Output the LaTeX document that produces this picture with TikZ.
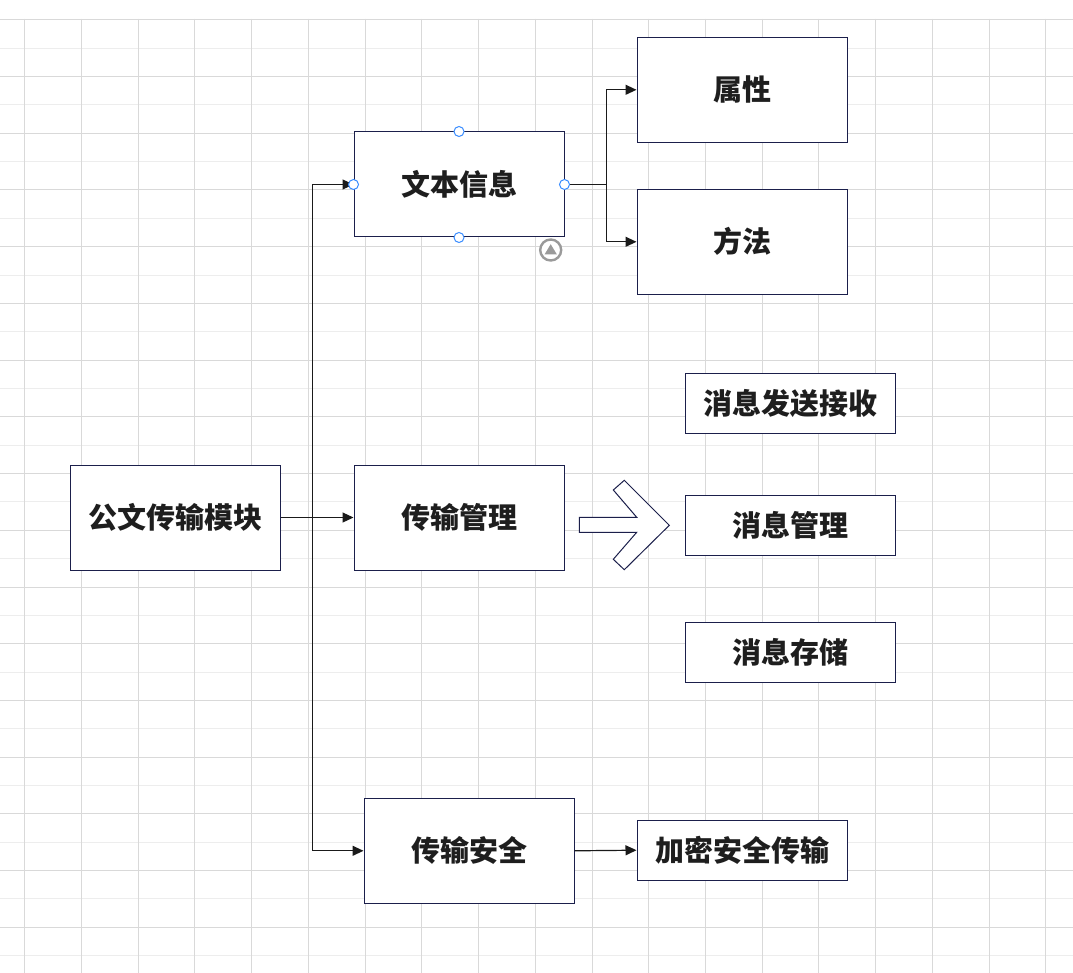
\documentclass[tikz,border=0pt]{standalone}
\usepackage{fontspec}
\newfontfamily\cjk{Noto Sans CJK SC}
\usetikzlibrary{arrows.meta}
\definecolor{boxc}{HTML}{1B1F4B}
\definecolor{txtc}{HTML}{1E1E1E}
\definecolor{linec}{HTML}{1A1A1A}
\definecolor{gmin}{HTML}{EDEDED}
\definecolor{gmaj}{HTML}{D9D9D9}
\definecolor{handle}{HTML}{3A8DFF}
\definecolor{icon}{HTML}{9A9A9A}
\begin{document}
\begin{tikzpicture}[x=1pt,y=-1pt,
  box/.style={draw=boxc,line width=1pt,fill=white,minimum width=210pt,minimum height=105pt,inner sep=0pt,text=txtc,font=\cjk\bfseries\fontsize{29}{32}\selectfont},
  sbox/.style={box,minimum height=60pt},
  arr/.style={draw=linec,line width=1.2pt,-{Triangle[length=11pt,width=10pt]}},
  gridminor/.style={draw=gmin,line width=1pt},
  gridmajor/.style={draw=gmaj,line width=1pt},
  hdl/.style={circle,draw=handle,fill=white,line width=1pt,minimum size=10pt,inner sep=0pt}]
\useasboundingbox (0,0) rectangle (1073,973);
\fill[white] (0,0) rectangle (1073,973);
% grid
\foreach \i in {1,3,...,37} \draw[gridminor] ({round(-4.06+28.36*\i)+0.5},19) -- ({round(-4.06+28.36*\i)+0.5},973);
\foreach \i in {1,3,...,33} \draw[gridminor] (0,{round(19.3+28.36*\i)+0.5}) -- (1073,{round(19.3+28.36*\i)+0.5});
\foreach \i in {0,...,18} \draw[gridmajor] ({round(24.3+56.72*\i)+0.5},19) -- ({round(24.3+56.72*\i)+0.5},973);
\foreach \i in {0,...,16} \draw[gridmajor] (0,{round(19.3+56.72*\i)+0.5}) -- (1073,{round(19.3+56.72*\i)+0.5});
% nodes
\node[box] (gw) at (175,517.5) {公文传输模块};
\node[box] (wb) at (459,184.5) {文本信息};
\node[box] (tm) at (459,517.5) {传输管理};
\node[box] (ta) at (469,850.8) {传输安全};
\node[box] (sx) at (742,89.8) {属性};
\node[box] (ff) at (742,241.8) {方法};
\node[sbox] (m1) at (790,403) {消息发送接收};
\node[sbox] (m2) at (790,525) {消息管理};
\node[sbox] (m3) at (790,652) {消息存储};
\node[sbox] (jm) at (742,850.2) {加密安全传输};
% connectors
\coordinate (j) at (312.3,517.5);
\coordinate (k) at (606.3,184.5);
\draw[arr] (gw.east) -- (tm.west);
\draw[arr] (j) |- (wb.west);
\draw[arr] (j) |- (ta.west);
\draw[draw=linec,line width=1.2pt] (wb.east) -- (k);
\draw[arr] (k) |- (sx.west);
\draw[arr] (k) |- (ff.west);
\draw[arr] (ta.east) -- (jm.west);
% block arrow
\draw[draw=boxc,line width=1pt,fill=white,line join=miter]
  (579.3,517.3) -- (636.7,517.3) -- (613.3,490) -- (624.3,480.3) -- (669.3,525.3)
  -- (624.3,569.7) -- (613.3,559.3) -- (636.7,532.3) -- (579.3,532.3) -- cycle;
% selection handles
\node[hdl] (h1) at (wb.west) {};
\node[hdl] (h2) at (wb.east) {};
\node[hdl] (h3) at (wb.north) {};
\node[hdl] (h4) at (wb.south) {};
% icon
\draw[draw=icon,line width=2.4pt,fill=white] (550.7,250) circle (10.5);
\fill[icon] (544.5,254.5) -- (556.9,254.5) -- (550.7,244.2) -- cycle;
\end{tikzpicture}
\end{document}
